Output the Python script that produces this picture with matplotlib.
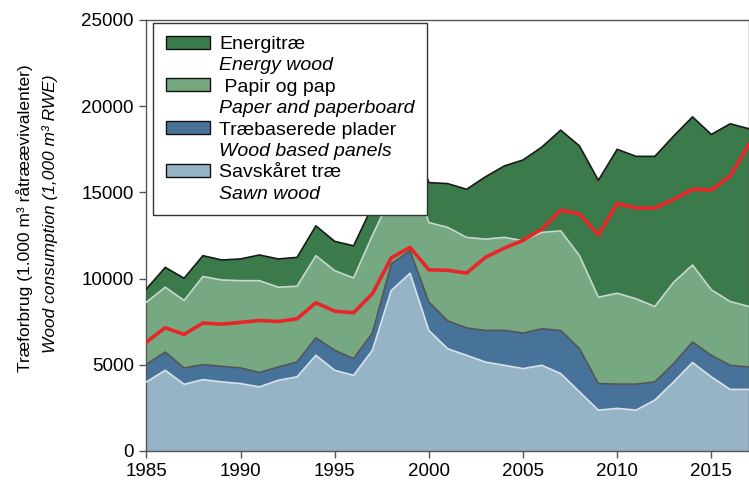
import matplotlib
matplotlib.use('Agg')
import matplotlib.pyplot as plt
from matplotlib.patches import Patch
import numpy as np

plt.rcParams['font.family'] = ['Liberation Sans', 'DejaVu Sans']

years = np.arange(1985, 2018)

# consumption by product (1,000 m3 RWE)
sawn = [4010, 4680, 3870, 4140, 4010, 3910, 3720, 4100, 4300, 5550, 4680,
        4390, 5840, 9310, 10310, 6990, 5930, 5550, 5160, 4970, 4780, 4970,
        4490, 3430, 2370, 2470, 2370, 2950, 4010, 5130, 4300, 3570, 3570]
panels = [1020, 1060, 950, 870, 900, 910, 830, 770, 860, 1020, 1160,
          970, 1000, 1540, 1310, 1650, 1620, 1590, 1830, 2030, 2060, 2120,
          2500, 2500, 1540, 1410, 1510, 1060, 1060, 1190, 1250, 1400, 1300]
paper = [3600, 3760, 3910, 5110, 5010, 5060, 5330, 4630, 4400, 4760, 4620,
         4680, 5660, 3950, 4880, 4610, 5420, 5250, 5300, 5390, 5360, 5590,
         5780, 5400, 5010, 5270, 4950, 4370, 4720, 4470, 3800, 3700, 3510]
energy = [770, 1150, 1290, 1210, 1160, 1260, 1490, 1640, 1670, 1730, 1700,
          1860, 1700, 1500, 2200, 2320, 2540, 2790, 3610, 4140, 4680, 4950,
          5840, 6360, 6780, 8350, 8260, 8710, 8480, 8590, 9010, 10310, 10310]
red_series = [6320, 7150, 6760, 7420, 7360, 7460, 7570, 7510, 7670, 8600, 8110,
              8020, 9120, 11200, 11810, 10510, 10480, 10320, 11230, 11770, 12220, 12870,
              13970, 13740, 12540, 14350, 14090, 14090, 14600, 15180, 15140, 15950, 17790]

labels_dk = ['Energitræ', ' Papir og pap', 'Træbaserede plader', 'Savskåret træ']
labels_en = ['Energy wood', 'Paper and paperboard', 'Wood based panels', 'Sawn wood']
colors = ['#3b7a4b', '#76a982', '#47739b', '#97b4c7']
edge_cols = ['#1a1a1a', '#c8d8cc', '#555555', '#d8e2ea']

fig = plt.figure(figsize=(7.49, 4.9), dpi=100)
ax = fig.add_axes([0.1955, 0.0796, 0.8045, 0.8796])

layers = [sawn, panels, paper, energy]
lcolors = colors[::-1]
ledges = edge_cols[::-1]
base = np.zeros(len(years))
for vals, c, ec in zip(layers, lcolors, ledges):
    top = base + np.array(vals)
    ax.fill_between(years, base, top, facecolor=c, edgecolor='none', zorder=2)
    ax.plot(years, top, color=ec, lw=1.2, zorder=3)
    base = top

ax.plot(years, red_series, color='#e8262a', lw=2.6, zorder=4)

ax.set_xlim(1985, 2017)
ax.set_ylim(0, 25000)
ax.set_xticks(range(1985, 2016, 5))
ax.set_yticks(range(0, 25001, 5000))
ax.tick_params(direction='out', length=5, width=1, color='#555555',
               labelsize=13.5, pad=4)
for s in ax.spines.values():
    s.set_color('#555555')
    s.set_linewidth(1)

handles = []
texts = []
for dk, en, c in zip(labels_dk, labels_en, colors):
    handles.append(Patch(facecolor=c, edgecolor='#111111', lw=1))
    texts.append(dk)
    handles.append(Patch(facecolor='none', edgecolor='none'))
    texts.append(en)
leg = ax.legend(handles, texts, loc='upper left', bbox_to_anchor=(0.011, 0.993),
                fontsize=14, frameon=True, fancybox=False, framealpha=1,
                borderpad=0.65, labelspacing=0.21, handlelength=2.3,
                handleheight=0.65, handletextpad=0.45, borderaxespad=0)
leg.get_frame().set_edgecolor('#333333')
leg.get_frame().set_linewidth(1)
leg.set_zorder(10)
for i, t in enumerate(leg.get_texts()):
    if i % 2 == 1:
        t.set_fontstyle('italic')

fig.text(0.033, 0.555, 'Træforbrug (1.000 m³ råtræævivalenter)', rotation=90,
         ha='center', va='center', fontsize=12.5)
fig.text(0.067, 0.563, 'Wood consumption (1,000 m³ RWE)', rotation=90,
         ha='center', va='center', fontsize=12.5, fontstyle='italic')

fig.savefig('out.png', dpi=100)
